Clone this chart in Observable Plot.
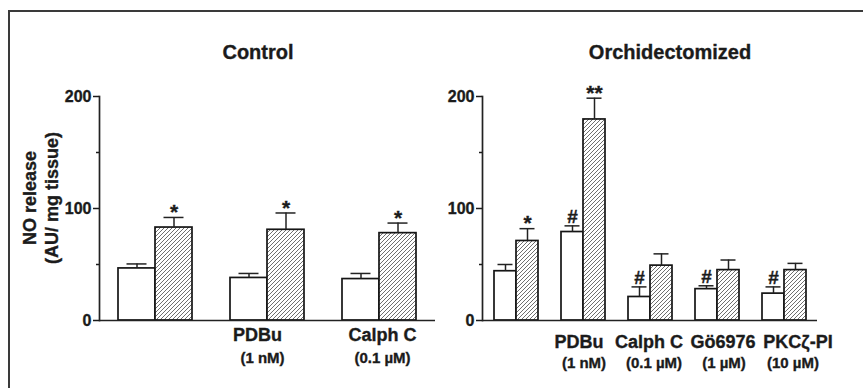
<!DOCTYPE html>
<html>
<head>
<meta charset="utf-8">
<script src="https://cdn.jsdelivr.net/npm/d3@7"></script>
<script src="https://cdn.jsdelivr.net/npm/@observablehq/plot@0.6"></script>
<style>
  body { margin: 0; background: #fff; }
  #fig { position: relative; width: 863px; height: 388px; overflow: hidden;
         font-family: "Liberation Sans", Arial, sans-serif; color: #1b1b1b; }
  .border { position: absolute; left: 8px; top: 10px; right: -10px; bottom: -10px;
            border-top: 2px solid #3a3a3a; border-left: 2px solid #3a3a3a; }
  .title { position: absolute; top: 42px; width: 240px; text-align: center;
           font-weight: bold; font-size: 20px; line-height: 20px;
           -webkit-text-stroke: 0.35px #1b1b1b; }
  .ylab { position: absolute; left: -59px; top: 176px; width: 200px; height: 44px;
          text-align: center; font-weight: bold; font-size: 18px; line-height: 22px;
          transform: rotate(-90deg); -webkit-text-stroke: 0.35px #1b1b1b; }
  .panel { position: absolute; top: 0; }
  .panel svg text { stroke: #1b1b1b; stroke-width: 0.35px; }
</style>
</head>
<body>
<div id="fig">
  <svg width="0" height="0" style="position:absolute">
    <defs>
      <pattern id="hatch" patternUnits="userSpaceOnUse" width="4" height="4">
        <rect width="4" height="4" fill="#fff"></rect>
        <path d="M-1,1 l2,-2 M0,4 l4,-4 M3,5 l2,-2" stroke="#4a4a4a" stroke-width="0.8"></path>
      </pattern>
    </defs>
  </svg>
  <div class="border"></div>
  <div class="title" style="left:138px">Control</div>
  <div class="title" style="left:550px">Orchidectomized</div>
  <div class="ylab">NO release<br>(AU/ mg tissue)</div>
</div>
<script>
// Bar pair per treatment: open bar = basal, hatched bar = stimulated
const conditions = ["basal", "stimulated"];

// Control animals
const controlGroups = ["Vehicle", "PDBu", "Calph C"];
const controlDrugLabels = ["", "PDBu", "Calph C"];
const controlDoseLabels = ["", "(1 nM)", "(0.1 µM)"];
const controlBasal = [46.5, 38, 37];
const controlBasalSem = [4, 4, 5];
const controlStim = [83, 81, 78];
const controlStimSem = [9, 15, 9];
const controlBasalSig = ["", "", ""];
const controlStimSig = ["*", "*", "*"];

// Orchidectomized animals
const orxGroups = ["Vehicle", "PDBu", "Calph C", "Gö6976", "PKCζ-PI"];
const orxDrugLabels = ["", "PDBu", "Calph C", "Gö6976", "PKCζ-PI"];
const orxDoseLabels = ["", "(1 nM)", "(0.1 µM)", "(1 µM)", "(10 µM)"];
const orxBasal = [44, 79, 21, 28, 24];
const orxBasalSem = [6, 5.5, 9, 3, 6];
const orxStim = [71, 179.5, 49, 45, 45];
const orxStimSem = [11, 19, 10.5, 9, 6];
const orxBasalSig = ["", "#", "#", "#", "#"];
const orxStimSig = ["*", "**", "", "", ""];

const yTicks = [0, 100, 200];
const yMinorTicks = [50, 150];

const FONT = '"Liberation Sans", Arial, sans-serif';

function panel(p) {
  const rows = p.groups.flatMap((g, i) => [
    {group: g, cond: conditions[0], value: p.basal[i], sem: p.basalSem[i], sig: p.basalSig[i]},
    {group: g, cond: conditions[1], value: p.stim[i], sem: p.stimSem[i], sig: p.stimSig[i]}
  ]);
  // treatment labels under each pair, with a small horizontal nudge per label
  const labels = p.groups.map((g, i) => ({
    group: g, drug: p.drugs[i], dose: p.doses[i], dxDrug: p.drugShift[i], dxDose: p.doseShift[i]
  }));
  const top = d => d.value + d.sem;
  const labelMarks = labels.flatMap(l => [
    Plot.text([l], {fx: "group", text: "drug", frameAnchor: "bottom", dy: p.labelDy[0], dx: l.dxDrug,
      fontSize: 18, fontWeight: "bold"}),
    Plot.text([l], {fx: "group", text: "dose", frameAnchor: "bottom", dy: p.labelDy[1], dx: l.dxDose,
      fontSize: 15, fontWeight: "bold"})
  ]);
  return Plot.plot({
    width: p.width,
    height: 388,
    marginLeft: p.marginLeft,
    marginRight: p.marginRight,
    marginTop: 96,
    marginBottom: 68,
    style: {fontFamily: FONT, fontWeight: "bold", fontSize: "16px", color: "#1b1b1b", background: "transparent", overflow: "visible"},
    fx: {domain: p.groups, padding: 0, axis: null},
    x: {domain: conditions, paddingInner: 0, paddingOuter: p.xOuter, axis: null},
    y: {domain: [0, 200], axis: null},
    marks: [
      Plot.barY(rows, {filter: d => d.cond === conditions[0], fx: "group", x: "cond", y: "value",
        fill: "white", stroke: "#151515", strokeWidth: 1.7}),
      Plot.barY(rows, {filter: d => d.cond === conditions[1], fx: "group", x: "cond", y: "value",
        fill: "url(#hatch)", stroke: "#151515", strokeWidth: 1.7}),
      Plot.ruleX(rows, {fx: "group", x: "cond", y1: "value", y2: top, stroke: "#222", strokeWidth: 1.5}),
      Plot.tickY(rows, {fx: "group", x: "cond", y: top, insetLeft: p.capInset, insetRight: p.capInset,
        stroke: "#222", strokeWidth: 1.5}),
      Plot.text(rows, {filter: d => d.cond === conditions[0] && d.sig, fx: "group", x: "cond", y: top,
        text: "sig", dy: -9, fontSize: 19, fontWeight: "bold"}),
      Plot.text(rows, {filter: d => d.cond === conditions[1] && d.sig, fx: "group", x: "cond", y: top,
        text: "sig", dy: -5, fontSize: 21, fontWeight: "bold"}),
      Plot.ruleY([0], {stroke: "#222", strokeWidth: 1.7}),
      Plot.frame({anchor: "left", facetAnchor: "left", stroke: "#222", strokeWidth: 1.7}),
      Plot.axisY({ticks: yTicks, tickSize: 6, tickPadding: 2, strokeWidth: 1.5, fontSize: 16,
        fontWeight: "bold", tickFormat: d3.format("d"), label: null}),
      Plot.axisY({ticks: yMinorTicks, tickSize: 3, strokeWidth: 1.5, tickFormat: () => "", label: null}),
      ...labelMarks
    ]
  });
}

const fig = document.getElementById("fig");

function place(svg, left) {
  const wrap = document.createElement("div");
  wrap.className = "panel";
  wrap.style.left = left + "px";
  wrap.appendChild(svg);
  fig.appendChild(wrap);
}

place(panel({
  groups: controlGroups, drugs: controlDrugLabels, doses: controlDoseLabels,
  basal: controlBasal, basalSem: controlBasalSem, stim: controlStim, stimSem: controlStimSem,
  basalSig: controlBasalSig, stimSig: controlStimSig,
  width: 440, marginLeft: 99, marginRight: 5, xOuter: 0.51, capInset: 8.5, labelDy: [20, 42],
  drugShift: [0, -10, 3], doseShift: [0, -5, 3]
}), 0);

place(panel({
  groups: orxGroups, drugs: orxDrugLabels, doses: orxDoseLabels,
  basal: orxBasal, basalSem: orxBasalSem, stim: orxStim, stimSem: orxStimSem,
  basalSig: orxBasalSig, stimSig: orxStimSig,
  width: 423, marginLeft: 41, marginRight: 46, xOuter: 0.52, capInset: 3.5, labelDy: [27, 47],
  drugShift: [0, -4, -1, 6, 14], doseShift: [0, 1, 4, 7, 9]
}), 440);
</script>
</body>
</html>
